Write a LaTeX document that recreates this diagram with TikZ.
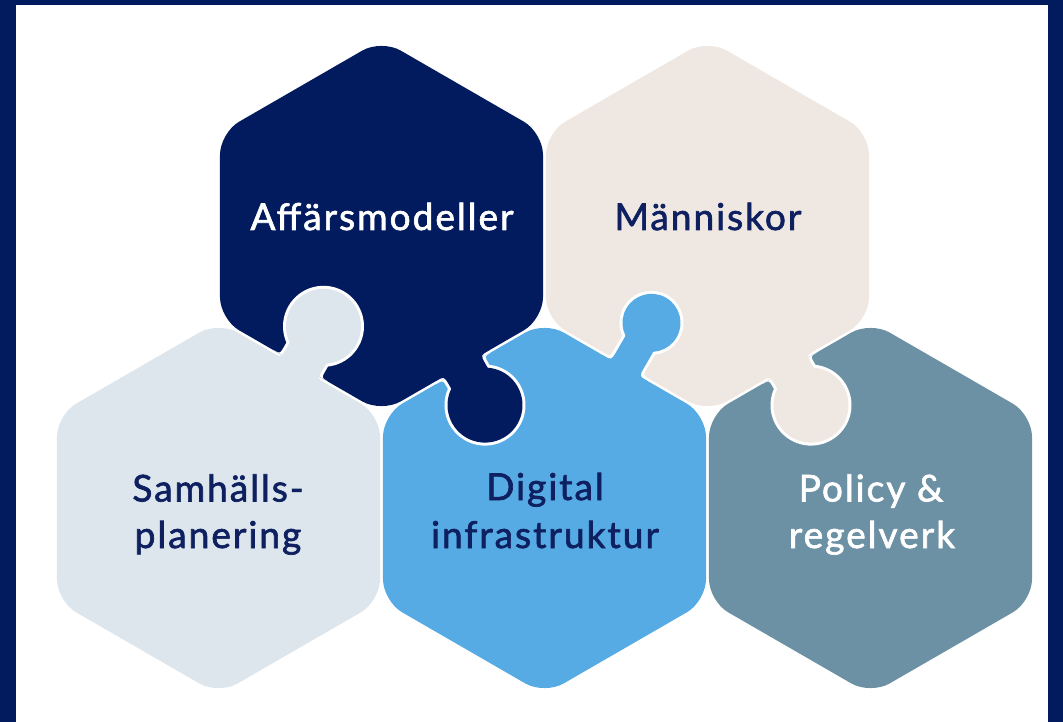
\documentclass[tikz,border=0pt]{standalone}
\usepackage{fontspec}
\newfontfamily\lblfont{Lato}[FakeBold=1.8, LetterSpace=5.5]
\usetikzlibrary{calc}
\definecolor{navy}{RGB}{1,27,94}
\definecolor{beige}{RGB}{239,231,225}
\definecolor{pale}{RGB}{221,230,236}
\definecolor{sky}{RGB}{86,171,228}
\definecolor{slate}{RGB}{108,145,164}
\definecolor{textnavy}{RGB}{14,32,96}
\newcommand\hexpath[1]{($(#1)+(0:161.5)$) -- ($(#1)+(30:186.5)$) -- ($(#1)+(90:186.5)$) -- ($(#1)+(150:186.5)$) -- ($(#1)+(210:186.5)$) -- ($(#1)+(270:186.5)$) -- ($(#1)+(330:186.5)$) -- cycle}
% #1 point on shared line, #2 angle, #3 d, #4 r, #5 h, #6 owner colour, #7 receiver centre
\newcommand\puzzleknob[7]{%
  \begin{scope}
    \clip[hexr] \hexpath{#7};
    \begin{scope}[shift={(#1)}, rotate=#2]
      \fill[white] (0,#3) circle[radius=#4+3];
      \fill[white] (-#5-10,-12) -- (-#5-10,1.5) .. controls (-#5-3,1.5) .. (-#5-3,8.5) -- (-#5-3,#3) -- (#5+3,#3) -- (#5+3,8.5) .. controls (#5+3,1.5) .. (#5+10,1.5) -- (#5+10,-12) -- cycle;
    \end{scope}
  \end{scope}
  \begin{scope}[shift={(#1)}, rotate=#2]
    \fill[#6] (0,#3) circle[radius=#4];
    \fill[#6] (-#5-10,-12) -- (-#5-10,-1.5) .. controls (-#5,-1.5) .. (-#5,8.5) -- (-#5,#3) -- (#5,#3) -- (#5,8.5) .. controls (#5,-1.5) .. (#5+10,-1.5) -- (#5+10,-12) -- cycle;
  \end{scope}}
\begin{document}
\begin{tikzpicture}[x=1pt, y=-1pt,
  hexr/.style={rounded corners=22pt},
  lbl/.style={font=\lblfont\fontsize{37}{44}\selectfont, inner sep=0pt, anchor=base}]
\useasboundingbox (0,0) rectangle (1063,722);
\fill[white] (0,0) rectangle (1063,722);
\fill[navy] (0,0) rectangle (16,722);
\fill[navy] (0,0) rectangle (1063,5);
\fill[navy] (1048,0) rectangle (1063,722);
\coordinate (A) at (381.5,226);
\coordinate (M) at (707.5,226);
\coordinate (S) at (218.5,508);
\coordinate (D) at (544.5,508);
\coordinate (P) at (870.5,508);
\fill[navy, hexr] \hexpath{A};
\fill[beige, hexr] \hexpath{M};
\fill[pale, hexr] \hexpath{S};
\fill[sky, hexr] \hexpath{D};
\fill[slate, hexr] \hexpath{P};
\coordinate (k1) at (300,367);
\coordinate (k2) at (463,367);
\coordinate (k3) at (626,367);
\coordinate (k4) at (789,367);
\puzzleknob{k1}{150}{47}{37.5}{21}{pale}{A}
\puzzleknob{k2}{30}{44}{37.5}{21}{navy}{D}
\puzzleknob{k3}{150}{51}{29}{16}{sky}{M}
\puzzleknob{k4}{30}{44}{37.5}{21}{beige}{P}
\node[lbl, text=white] (tA) at (382,230) {Affärsmodeller};
\node[lbl, text=textnavy] (tM) at (708,230) {Människor};
\node[lbl, text=textnavy] (tS1) at (218,501.5) {Samhälls-};
\node[lbl, text=textnavy] (tS2) at (218,548) {planering};
\node[lbl, text=textnavy] (tD1) at (545,500) {Digital};
\node[lbl, text=textnavy] (tD2) at (545,548) {infrastruktur};
\node[lbl, text=white] (tP1) at (871,501.5) {Policy \&};
\node[lbl, text=white] (tP2) at (872,548) {regelverk};
\end{tikzpicture}
\end{document}
